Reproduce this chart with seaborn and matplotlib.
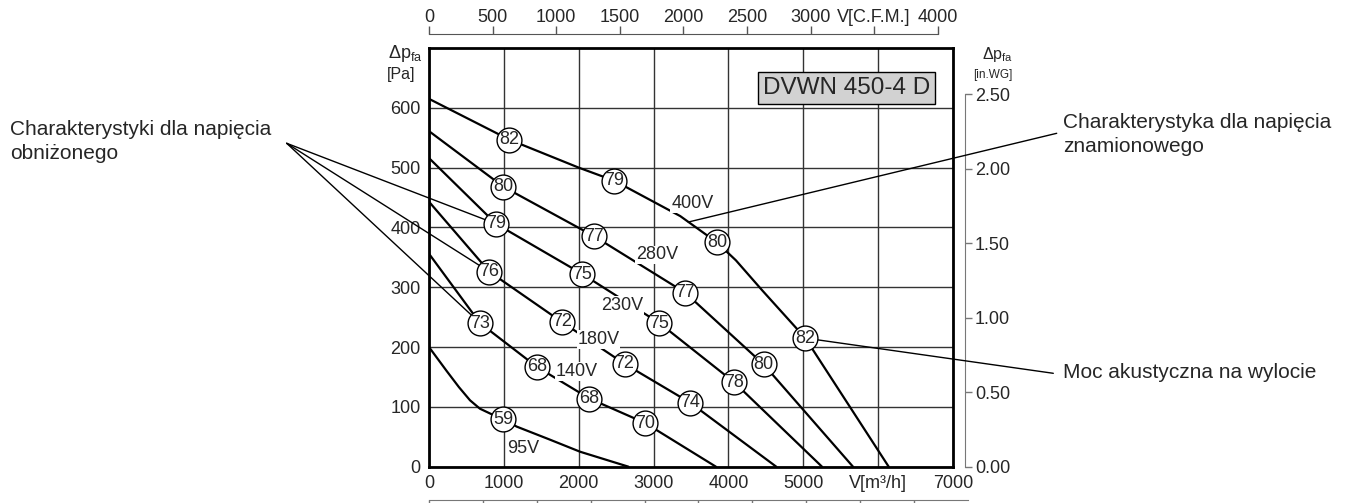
"""
Fan characteristic chart: DVWN 450-4 D, pressure vs. air flow at several voltages.
"""

import matplotlib

matplotlib.use("Agg")
import matplotlib.pyplot as plt
import pandas as pd
import seaborn as sns

# Fan curves: flow V [m3/h] vs static pressure dp_fa [Pa]
curve_names = ["400V", "280V", "230V", "180V", "140V", "95V"]
flow_400 = [0, 1070, 2000, 2477, 3356, 3846, 4100, 4450, 5027, 6141]
dp_400 = [615, 547, 500, 478, 419, 375, 345, 295, 215, 0]
flow_280 = [0, 994, 2210, 3422, 4470, 5664]
dp_280 = [561, 468, 385, 291, 171, 0]
flow_230 = [0, 896, 2050, 3079, 4078, 5250]
dp_230 = [516, 406, 322, 240, 141, 0]
flow_180 = [0, 806, 1774, 2612, 3489, 4639]
dp_180 = [443, 326, 242, 172, 107, 0]
flow_140 = [0, 682, 1440, 2143, 2888, 3833]
dp_140 = [356, 240, 167, 114, 73, 0]
flow_95 = [0, 236, 400, 548, 680, 815, 994, 1172, 1600, 2019, 2665]
dp_95 = [200, 160, 133, 111, 97, 89, 79, 67, 46, 25, 0]

# Sound power level at the outlet (circled numbers)
noise_flow = [1070, 2477, 3846, 5027,
              994, 2210, 3422, 4470,
              896, 2050, 3079, 4078,
              806, 1774, 2612, 3489,
              682, 1440, 2143, 2888,
              994]
noise_dp = [547, 478, 375, 215,
            468, 385, 291, 171,
            406, 322, 240, 141,
            326, 242, 172, 107,
            240, 167, 114, 73,
            79]
noise_level = [82, 79, 80, 82,
               80, 77, 77, 80,
               79, 75, 75, 78,
               76, 72, 72, 74,
               73, 68, 68, 70,
               59]

# Voltage label positions
volt_x = [3520, 3044, 2576, 2264, 1975, 1262]
volt_y = [440, 354, 270, 212, 159, 31]

# Axis ticks
x_ticks = [0, 1000, 2000, 3000, 4000, 5000, 6000, 7000]
x_tick_labels = ["0", "1000", "2000", "3000", "4000", "5000", "V[m³/h]", "7000"]
y_ticks = [0, 100, 200, 300, 400, 500, 600]
cfm_ticks = [0, 500, 1000, 1500, 2000, 2500, 3000, 3500, 4000]
cfm_tick_labels = ["0", "500", "1000", "1500", "2000", "2500", "3000", "V[C.F.M.]", "4000"]
inwg_ticks = [0, 0.5, 1.0, 1.5, 2.0, 2.5]
m3s_ticks = [0, 0.2, 0.4, 0.6, 0.8, 1.0, 1.2, 1.4, 1.6, 1.8, 2.0]

# Annotation targets (data coords) for the side notes
reduced_targets = [(896, 406), (806, 326), (682, 240)]
nominal_target = (3463, 409)
sound_target = (5027, 215)

sns.set_style("white")
plt.rcParams["font.family"] = ["Liberation Sans", "DejaVu Sans"]
plt.rcParams["mathtext.fontset"] = "custom"
plt.rcParams["mathtext.rm"] = "Liberation Sans"
plt.rcParams["mathtext.it"] = "Liberation Sans"

W, H = 1356, 503
fig = plt.figure(figsize=(W / 100, H / 100), dpi=100)
ax = fig.add_axes([429 / W, 1 - 466.7 / H, 524 / W, 418.7 / H])

curves = pd.concat(
    [
        pd.DataFrame({"flow": f, "dp": p, "curve": n})
        for n, f, p in zip(
            curve_names,
            [flow_400, flow_280, flow_230, flow_180, flow_140, flow_95],
            [dp_400, dp_280, dp_230, dp_180, dp_140, dp_95],
        )
    ],
    ignore_index=True,
)
sns.lineplot(
    data=curves, x="flow", y="dp", units="curve", estimator=None, sort=False,
    color="black", lw=1.6, ax=ax, zorder=3,
)

noise = pd.DataFrame({"flow": noise_flow, "dp": noise_dp, "level": noise_level})
sns.scatterplot(
    data=noise, x="flow", y="dp", s=320, color="white", edgecolor="black",
    linewidth=1, ax=ax, zorder=5,
)
for fx, py, lv in zip(noise_flow, noise_dp, noise_level):
    ax.text(fx, py, str(lv), ha="center", va="center", fontsize=13, zorder=6)

for name, vx, vy in zip(curve_names, volt_x, volt_y):
    ax.text(vx, vy, name, ha="center", va="center", fontsize=13, zorder=4,
            bbox=dict(boxstyle="square,pad=0.05", fc="white", ec="none"))

ax.text(5575, 633, "DVWN 450-4 D", ha="center", va="center", fontsize=17.5, zorder=6,
        bbox=dict(boxstyle="square,pad=0.2", fc="#d2d2d2", ec="black", lw=1))

ax.set_xlim(0, 7000)
ax.set_ylim(0, 700)
ax.set_xticks(x_ticks)
ax.set_xticklabels(x_tick_labels, fontsize=13)
ax.set_yticks(y_ticks)
ax.set_yticklabels([str(v) for v in y_ticks], fontsize=13)
ax.tick_params(axis="x", length=0, pad=6)
ax.tick_params(axis="y", length=5, width=1, direction="out", pad=1, color="#333")
ax.set_xlabel("")
ax.set_ylabel("")
ax.grid(True, color="#333333", lw=1)
ax.set_axisbelow(True)
for s in ax.spines.values():
    s.set_linewidth(2)
    s.set_color("black")

# top axis in CFM
top = ax.secondary_xaxis(1.033, functions=(lambda v: v / 1.699, lambda c: c * 1.699))
top.set_xticks(cfm_ticks)
top.set_xticklabels(cfm_tick_labels, fontsize=13)
top.tick_params(length=6, width=1, color="#555", pad=0)
top.spines["top"].set_bounds(0, 4000)
top.spines["top"].set_color("#555")

# right axis in in.WG
right = ax.secondary_yaxis(1.023, functions=(lambda p: p / 249.09, lambda w: w * 249.09))
right.set_yticks(inwg_ticks)
right.set_yticklabels([f"{v:.2f}" for v in inwg_ticks], fontsize=13)
right.tick_params(length=5, width=1, color="#777", pad=2)
right.spines["right"].set_bounds(0, 2.5)
right.spines["right"].set_color("#777")

# bottom axis in m3/s (labels fall outside the picture)
bottom = ax.secondary_xaxis(-0.0795, functions=(lambda v: v / 3600, lambda s: s * 3600))
bottom.set_xticks(m3s_ticks)
bottom.set_xticklabels([""] * len(m3s_ticks))
bottom.tick_params(length=7, width=1, color="#777")
bottom.spines["bottom"].set_bounds(0, 2.0)
bottom.spines["bottom"].set_color("#777")

# axis titles
fig.text(405 / W, 1 - 54 / H, r"Δp$_{\mathrm{fa}}$", ha="center", va="center", fontsize=13)
fig.text(401 / W, 1 - 74 / H, "[Pa]", ha="center", va="center", fontsize=11.5)
fig.text(998 / W, 1 - 55 / H, r"Δp$_{\mathrm{fa}}$", ha="center", va="center", fontsize=11.5)
fig.text(993 / W, 1 - 75 / H, "[in.WG]", ha="center", va="center", fontsize=8.5)

# side notes
note_kw = dict(ha="left", va="top", fontsize=15, linespacing=1.32)
fig.text(10 / W, 1 - 120 / H, "Charakterystyki dla napięcia\nobniżonego", **note_kw)
for tx, ty in reduced_targets:
    ax.annotate("", xy=(tx, ty), xytext=(286.7, H - 143.3), textcoords="figure pixels",
                arrowprops=dict(arrowstyle="-", lw=1, color="black", shrinkA=0, shrinkB=0),
                annotation_clip=False, zorder=4)

fig.text(1063 / W, 1 - 113 / H, "Charakterystyka dla napięcia\nznamionowego", **note_kw)
ax.annotate("", xy=nominal_target, xytext=(1056.7, H - 133.3), textcoords="figure pixels",
            arrowprops=dict(arrowstyle="-", lw=1, color="black", shrinkA=0, shrinkB=0),
            annotation_clip=False, zorder=4)

fig.text(1063 / W, 1 - 373 / H, "Moc akustyczna na wylocie",
         ha="left", va="center", fontsize=15)
ax.annotate("", xy=sound_target, xytext=(1053.3, H - 373.3), textcoords="figure pixels",
            arrowprops=dict(arrowstyle="-", lw=1, color="black", shrinkA=0, shrinkB=0),
            annotation_clip=False, zorder=4)

fig.savefig("out.png", dpi=100)
